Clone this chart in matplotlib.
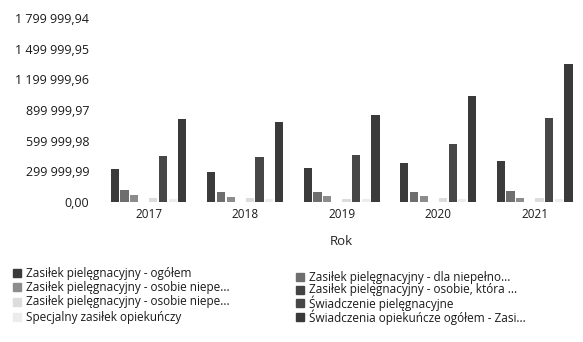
import numpy as np
import matplotlib
matplotlib.use("Agg")
import matplotlib.pyplot as plt
from matplotlib.patches import Rectangle
from matplotlib.ticker import FuncFormatter

plt.rcParams['font.family'] = ['Open Sans', 'DejaVu Sans']

years = ['2017', '2018', '2019', '2020', '2021']

# series, in the order the bars stand inside each year group
labels = [
    'Zasiłek pielęgnacyjny - ogółem',
    'Zasiłek pielęgnacyjny - dla niepełno...',
    'Zasiłek pielęgnacyjny - osobie niepe...',
    'Zasiłek pielęgnacyjny - osobie, która ...',
    'Zasiłek pielęgnacyjny - osobie niepe...',
    'Świadczenie pielęgnacyjne',
    'Specjalny zasiłek opiekuńczy',
    'Świadczenia opiekuńcze ogółem - Zasi...',
]
zp_ogolem = [320000, 290000, 330000, 385000, 405000]
zp_niepelno = [115000, 100000, 95000, 95000, 110000]
zp_osobie1 = [65000, 50000, 55000, 55000, 45000]
zp_osobie_ktora = [4000, 4000, 4000, 4000, 4000]
zp_osobie2 = [40000, 40000, 35000, 40000, 40000]
swiadczenie = [450000, 440000, 460000, 570000, 820000]
specjalny = [30000, 28000, 30000, 30000, 30000]
opiekuncze = [810000, 780000, 850000, 1035000, 1350000]

values = [zp_ogolem, zp_niepelno, zp_osobie1, zp_osobie_ktora,
          zp_osobie2, swiadczenie, specjalny, opiekuncze]
colors = ['#3b3b3b', '#6e6e6e', '#8c8c8c', '#444444',
          '#dcdcdc', '#474747', '#ececec', '#3a3a3a']

W, H = 583, 342
fig = plt.figure(figsize=(W / 100, H / 100), dpi=100)
ax = fig.add_axes([0.172, 0.409, 0.828, 0.538])

x = np.arange(len(years))
w = 0.1
for i, (vals, c) in enumerate(zip(values, colors)):
    ax.bar(x + (i - 3.5) * w, vals, w * 0.85, color=c, label=labels[i])

ymax = 1799999.94
ax.set_ylim(0, ymax)
ax.set_xlim(-0.5, len(years) - 0.5)
ax.set_yticks(np.linspace(0, ymax, 7))

def fmt(v, pos):
    s = '{:,.2f}'.format(v)
    return s.replace(',', ' ').replace('.', ',')

ax.yaxis.set_major_formatter(FuncFormatter(fmt))
ax.set_xticks(x)
ax.set_xticklabels(years)
ax.tick_params(length=0, colors='#1a1a1a')
ax.tick_params(axis='y', labelsize=9, pad=8)
ax.tick_params(axis='x', labelsize=8.5, pad=4)
for s in ax.spines.values():
    s.set_visible(False)
ax.set_xlabel('Rok', fontsize=9.5, color='#222222', labelpad=10)

# legend: two columns, filled row by row
col_x = [13, 296]
row_y = [[273, 287, 302, 317], [277, 290, 303, 317]]
for i, (lab, c) in enumerate(zip(labels, colors)):
    col, row = i % 2, i // 2
    px, py = col_x[col], row_y[col][row]
    fig.patches.append(Rectangle((px / W, 1 - (py + 4) / H), 8 / W, 8 / H,
                                 transform=fig.transFigure, color=c))
    fig.text((px + 13) / W, 1 - py / H, lab, fontsize=8.5, color='#1a1a1a',
             va='center', ha='left')

fig.savefig('out.png', dpi=100)
